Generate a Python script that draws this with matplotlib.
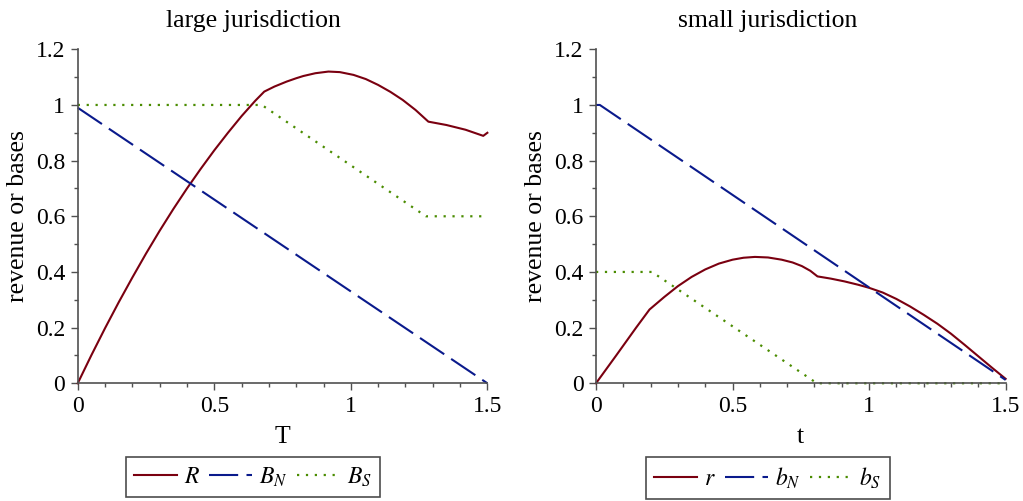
import numpy as np
import matplotlib
matplotlib.use('Agg')
import matplotlib.pyplot as plt
from matplotlib.ticker import MultipleLocator, FormatStrFormatter

plt.rcParams['font.family'] = ['Liberation Serif', 'DejaVu Serif']
plt.rcParams['mathtext.fontset'] = 'stix'

# ---- large jurisdiction ----
T_R = [0, 0.05, 0.1, 0.15, 0.2, 0.25, 0.3, 0.35, 0.4, 0.45, 0.5, 0.55, 0.6, 0.65, 0.683,
       0.72, 0.765, 0.80, 0.826, 0.87, 0.918, 0.96, 1.01, 1.055, 1.10, 1.145,
       1.19, 1.237, 1.284, 1.35, 1.42, 1.485, 1.5]
R = [0, 0.101, 0.198, 0.291, 0.380, 0.466, 0.548, 0.626, 0.700, 0.770, 0.837, 0.900,
     0.960, 1.015, 1.048,
     1.066, 1.084, 1.096, 1.104, 1.114, 1.120, 1.118, 1.108, 1.093, 1.072, 1.047,
     1.018, 0.982, 0.940, 0.928, 0.911, 0.889, 0.90]
T_BN = [0, 1.5]
B_N = [0.99, 0.0]
T_BS = [0, 0.674, 1.275, 1.5]
B_S = [1.0, 1.0, 0.6, 0.6]

# ---- small jurisdiction ----
t_r = [0, 0.074, 0.147, 0.196, 0.25, 0.30, 0.35, 0.40, 0.45, 0.50, 0.54, 0.582,
       0.63, 0.68, 0.72, 0.754, 0.785, 0.811, 0.86, 0.91, 0.96, 1.0, 1.05, 1.10,
       1.15, 1.20, 1.25, 1.30, 1.35, 1.40, 1.45, 1.5]
r = [0, 0.1, 0.2, 0.265, 0.31, 0.349, 0.382, 0.409, 0.430, 0.444, 0.451, 0.454,
     0.452, 0.444, 0.434, 0.421, 0.404, 0.384, 0.376, 0.366, 0.354, 0.343, 0.326, 0.303,
     0.276, 0.246, 0.214, 0.178, 0.138, 0.097, 0.056, 0.016]
t_bN = [0, 0.014, 1.5]
b_N = [1.0, 1.0, 0.012]
t_bS = [0, 0.205, 0.809, 1.5]
b_S = [0.4, 0.4, 0.0, 0.0]

RED = '#7a0010'
BLUE = '#0a1a8c'
GREEN = '#4a8c00'
AXC = '#505050'
FS = 17
LFS = 18.5

fig = plt.figure(figsize=(10.23, 5.01), dpi=100)
ax1 = fig.add_axes([0.076, 0.235, 0.4004, 0.6666])
ax2 = fig.add_axes([0.5826, 0.235, 0.4004, 0.6666])

panels = [
    (ax1, (T_R, R), (T_BN, B_N), (T_BS, B_S), 'T', ['$R$', '$B_N$', '$B_S$'],
     'large jurisdiction', 253),
    (ax2, (t_r, r), (t_bN, b_N), (t_bS, b_S), 't', ['$r$', '$b_N$', '$b_S$'],
     'small jurisdiction', 768),
]

for ax, rv, bn, bs, xl, labels, title, cx in panels:
    ax.plot(*rv, color=RED, lw=1.5, label=labels[0], clip_on=False)
    ax.plot(*bn, color=BLUE, lw=1.5, dashes=(14, 4), label=labels[1], clip_on=False)
    ax.plot(*bs, color=GREEN, lw=1.6, linestyle=(0, (1, 3)), label=labels[2], clip_on=False)

    ax.set_xlim(0, 1.5)
    ax.set_ylim(0, 1.2)
    ax.xaxis.set_major_locator(MultipleLocator(0.5))
    ax.xaxis.set_minor_locator(MultipleLocator(0.1))
    ax.yaxis.set_major_locator(MultipleLocator(0.2))
    ax.yaxis.set_minor_locator(MultipleLocator(0.1))
    ax.xaxis.set_major_formatter(FormatStrFormatter('%g'))
    ax.yaxis.set_major_formatter(FormatStrFormatter('%g'))
    for s in ['top', 'right']:
        ax.spines[s].set_visible(False)
    for s in ['left', 'bottom']:
        ax.spines[s].set_color(AXC)
        ax.spines[s].set_linewidth(1.2)
    ax.tick_params(which='major', length=5, width=1, color=AXC, labelsize=FS, pad=4)
    ax.tick_params(which='minor', length=3, width=1, color=AXC)

    ax.set_xlabel(xl, fontsize=LFS, labelpad=7)
    ax.set_ylabel('revenue or bases', fontsize=LFS, labelpad=5)

    fig.text(cx / 1023, 1 - 21 / 501, title, fontsize=LFS, ha='center', va='center')

    leg = ax.legend(loc='upper center', bbox_to_anchor=(cx / 1023, 44 / 501),
                    bbox_transform=fig.transFigure, ncol=3, fontsize=FS,
                    frameon=True, fancybox=False, edgecolor='#202020',
                    handlelength=1.8, handletextpad=0.3, columnspacing=0.4,
                    borderpad=0.35, borderaxespad=0)
    leg.get_frame().set_linewidth(1.2)

fig.savefig('out.png', dpi=100)
